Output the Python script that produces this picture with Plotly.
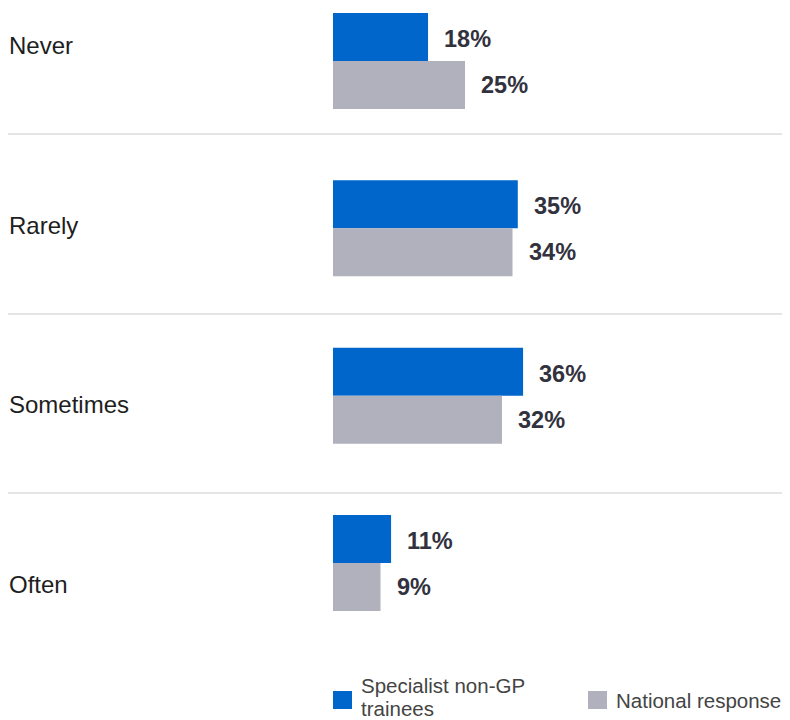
import plotly.graph_objects as go

categories = ["Never", "Rarely", "Sometimes", "Often"]
specialist = [18, 35, 36, 11]
national = [25, 34, 32, 9]
series_names = ["Specialist non-GP<br>trainees", "National response"]
colors = ["#0066CC", "#B1B1BD"]

FONT = "Liberation Sans, Arial, sans-serif"
W, H = 782, 712          # page body adds an 8px margin
L = 325
plot_w = W - L
px_per_pct = 5.28

fig = go.Figure()
for name, vals, col in zip(series_names, [specialist, national], colors):
    fig.add_trace(go.Bar(
        y=categories, x=vals, name=name, orientation="h",
        marker=dict(color=col, line=dict(width=0)),
        hoverinfo="x+y", showlegend=False,
    ))

# value labels
for vals, ysh in [(specialist, 22), (national, -24)]:
    for c, v in zip(categories, vals):
        fig.add_annotation(
            x=v, y=c, xref="x", yref="y", text=f"<b>{v}%</b>",
            showarrow=False, xanchor="left", yanchor="middle",
            xshift=14, yshift=ysh,
            font=dict(family=FONT, size=23.5, color="#32323E"),
        )

# category labels
label_px = [37, 217, 397, 576]
x_left = (0 - L) / plot_w
for c, p in zip(categories, label_px):
    fig.add_annotation(
        x=x_left, y=1 - p / H, xref="paper", yref="paper", text=c,
        showarrow=False, xanchor="left", yanchor="middle", xshift=-1,
        font=dict(family=FONT, size=24, color="#1E1E1E"),
    )

# separator lines
for p in [126, 306, 485]:
    fig.add_shape(type="line", xref="paper", yref="paper",
                  x0=x_left, x1=1, y0=1 - p / H, y1=1 - p / H,
                  line=dict(color="#DCDCDC", width=1.5))

# legend (drawn manually to match the square swatches)
legend_items = [
    (series_names[0], colors[0], 325, [677, 700]),
    (series_names[1], colors[1], 580, [692]),
]
for name, col, x0, line_y in legend_items:
    fig.add_shape(type="rect", xref="paper", yref="paper",
                  x0=(x0 - L) / plot_w, x1=(x0 + 19 - L) / plot_w,
                  y0=1 - 701 / H, y1=1 - 683 / H,
                  fillcolor=col, line=dict(width=0))
    for part, ly in zip(name.split("<br>"), line_y):
        fig.add_annotation(
            x=(x0 + 26 - L) / plot_w, y=1 - ly / H, xref="paper", yref="paper",
            text=part, showarrow=False, xanchor="left", yanchor="middle",
            font=dict(family=FONT, size=20.5, color="#444444"),
        )

unit = (555 - 53) / 3
top = -53 / unit
bottom = (H - 53) / unit

fig.update_layout(
    width=W, height=H,
    margin=dict(l=L, r=0, t=0, b=0),
    paper_bgcolor="white", plot_bgcolor="white",
    barmode="group", bargap=1 - 96 / unit, bargroupgap=0,
    xaxis=dict(range=[0, plot_w / px_per_pct], visible=False, fixedrange=True),
    yaxis=dict(range=[bottom, top], visible=False, type="category", fixedrange=True),
    showlegend=False,
    font=dict(family=FONT),
)

fig.write_html("out.html")
